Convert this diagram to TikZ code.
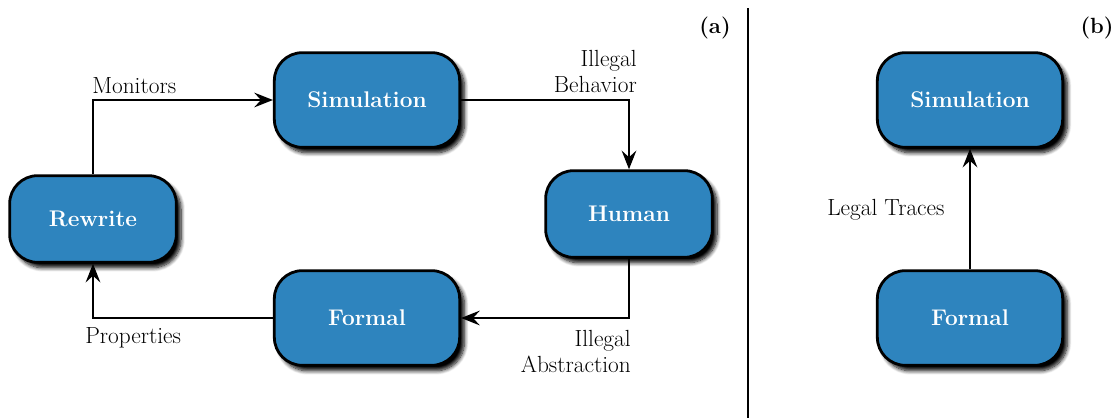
\documentclass[tikz,border=0pt]{standalone}
\usetikzlibrary{arrows.meta,shadows.blur}
\definecolor{boxblue}{RGB}{46,132,190}
\begin{document}
\begin{tikzpicture}[x=0.75pt,y=-0.75pt,
  box/.style={draw=black, line width=2.1pt, fill=boxblue, rounded corners=21pt,
    text=white, font=\fontsize{17}{19}\selectfont\bfseries,
    blur shadow={shadow xshift=3.5pt, shadow yshift=-4pt, shadow opacity=100, shadow blur radius=3pt, shadow blur steps=8},
    inner sep=0pt},
  bigbox/.style={box, minimum width=139pt, minimum height=71pt},
  smallbox/.style={box, minimum width=125pt, minimum height=65pt},
  conn/.style={line width=1.7pt, -{Stealth[length=14pt, width=11pt, inset=5pt]}},
  lbl/.style={font=\fontsize{17.5}{19.5}\selectfont, inner sep=0pt},
  tag/.style={font=\fontsize{16.5}{19.5}\selectfont\bfseries, inner sep=0pt}]
\useasboundingbox (0,0) rectangle (1118,418);
% (a)
\node[bigbox] (sim) at (367,100) {Simulation};
\node[smallbox] (rew) at (93,219) {Rewrite};
\node[smallbox] (hum) at (629,214) {Human};
\node[bigbox] (for) at (367,318) {Formal};
\draw[conn] (rew.north) |- (sim.west);
\draw[conn] (sim.east) -| (hum.north);
\draw[conn] (hum.south) |- (for.east);
\draw[conn] (for.west) -| (rew.south);
\node[lbl, anchor=west] (lmon) at (92,86) {Monitors};
\node[lbl, anchor=east, align=right] (lbeh) at (637,71) {Illegal\\Behavior};
\node[lbl, anchor=east, align=right] (labs) at (631,351) {Illegal\\Abstraction};
\node[lbl, anchor=west] (lprop) at (85,338) {Properties};
\node[tag] (ta) at (715,28) {(a)};
% divider
\coordinate (dtop) at (748,8);
\coordinate (dbot) at (748,418);
\draw[line width=1pt] (dtop) -- (dbot);
% (b)
\node[bigbox] (simb) at (970,100) {Simulation};
\node[bigbox] (forb) at (970,318) {Formal};
\draw[conn] (forb.north) -- (simb.south);
\node[lbl, anchor=west] (ltr) at (827,210) {Legal Traces};
\node[tag] (tb) at (1097,28) {(b)};
\end{tikzpicture}
\end{document}
